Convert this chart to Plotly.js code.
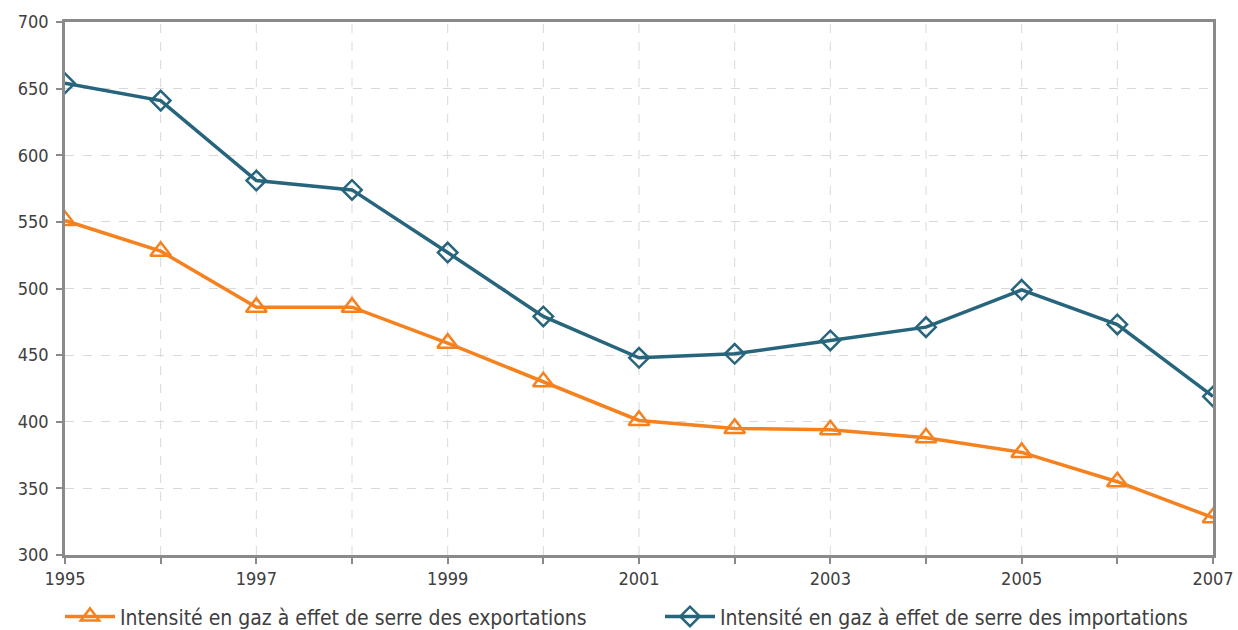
<!DOCTYPE html>
<html>
<head>
<meta charset="utf-8">
<script src="https://cdn.plot.ly/plotly-3.0.1.min.js"></script>
<style>body{margin:0;background:#fff;} #chart{width:1238px;height:630px;}</style>
</head>
<body>
<div id="chart"></div>
<script>
const years = [1995,1996,1997,1998,1999,2000,2001,2002,2003,2004,2005,2006,2007];
const exportsIntensity = [551,528,486,486,459,430,401,395,394,388,377,355,328];
const importsIntensity = [654,641,581,574,527,479,448,451,461,471,499,473,419];
const exportsName = "Intensité en gaz à effet de serre des exportations";
const importsName = "Intensité en gaz à effet de serre des importations";
const xTickLabels = ["1995","","1997","","1999","","2001","","2003","","2005","","2007"];

const traces = [
  {x: years, y: exportsIntensity, name: exportsName, type: 'scatter', mode: 'lines+markers', legend: 'legend',
   line: {color: '#F5821F', width: 3.5},
   marker: {symbol: 'triangle-up-open', size: 18, color: '#F5821F', line: {width: 2.5, color: '#F5821F'}}},
  {x: years, y: importsIntensity, name: importsName, type: 'scatter', mode: 'lines+markers', legend: 'legend2',
   line: {color: '#27657C', width: 3.5},
   marker: {symbol: 'diamond-open', size: 15, color: '#27657C', line: {width: 2.5, color: '#27657C'}}}
];

const legendCommon = {orientation: 'h', xref: 'container', yref: 'container', xanchor: 'left',
  y: 0.021, yanchor: 'middle', font: {size: 21, color: '#404040'}, itemwidth: 50, bgcolor: 'rgba(0,0,0,0)'};

const layout = {
  width: 1238, height: 630,
  margin: {l: 65, r: 25, t: 22, b: 75, autoexpand: false},
  paper_bgcolor: '#fff', plot_bgcolor: '#fff',
  font: {family: '"DejaVu Sans Condensed", "DejaVu Sans", sans-serif', size: 18, color: '#404040'},
  showlegend: true,
  legend: Object.assign({}, legendCommon, {x: 60 / 1238}),
  legend2: Object.assign({}, legendCommon, {x: 660 / 1238}),
  xaxis: {range: [1995, 2007], tickmode: 'array', tickvals: years, ticktext: xTickLabels,
          showgrid: false, zeroline: false, showline: true, linecolor: '#8a8a8a', linewidth: 2.5,
          mirror: true, ticks: 'outside', ticklen: 6, tickcolor: '#8a8a8a', tickwidth: 2,
          tickfont: {size: 18, color: '#404040'}},
  yaxis: {range: [300, 700], dtick: 50, showgrid: true, gridcolor: '#d9d9d9', griddash: 'dash', gridwidth: 1,
          zeroline: false, showline: true, linecolor: '#8a8a8a', linewidth: 2.5, mirror: true,
          ticks: 'outside', ticklen: 6, tickcolor: '#8a8a8a', tickwidth: 2, ticklabelstandoff: 4,
          tickfont: {size: 18, color: '#404040'}},
  shapes: years.slice(1, -1).map(yr => ({type: 'line', xref: 'x', yref: 'paper', x0: yr, x1: yr, y0: 0, y1: 1,
          line: {color: '#d9d9d9', width: 1, dash: 'dash'}, layer: 'below'}))
};

Plotly.newPlot('chart', traces, layout, {displayModeBar: false});
</script>
</body>
</html>
